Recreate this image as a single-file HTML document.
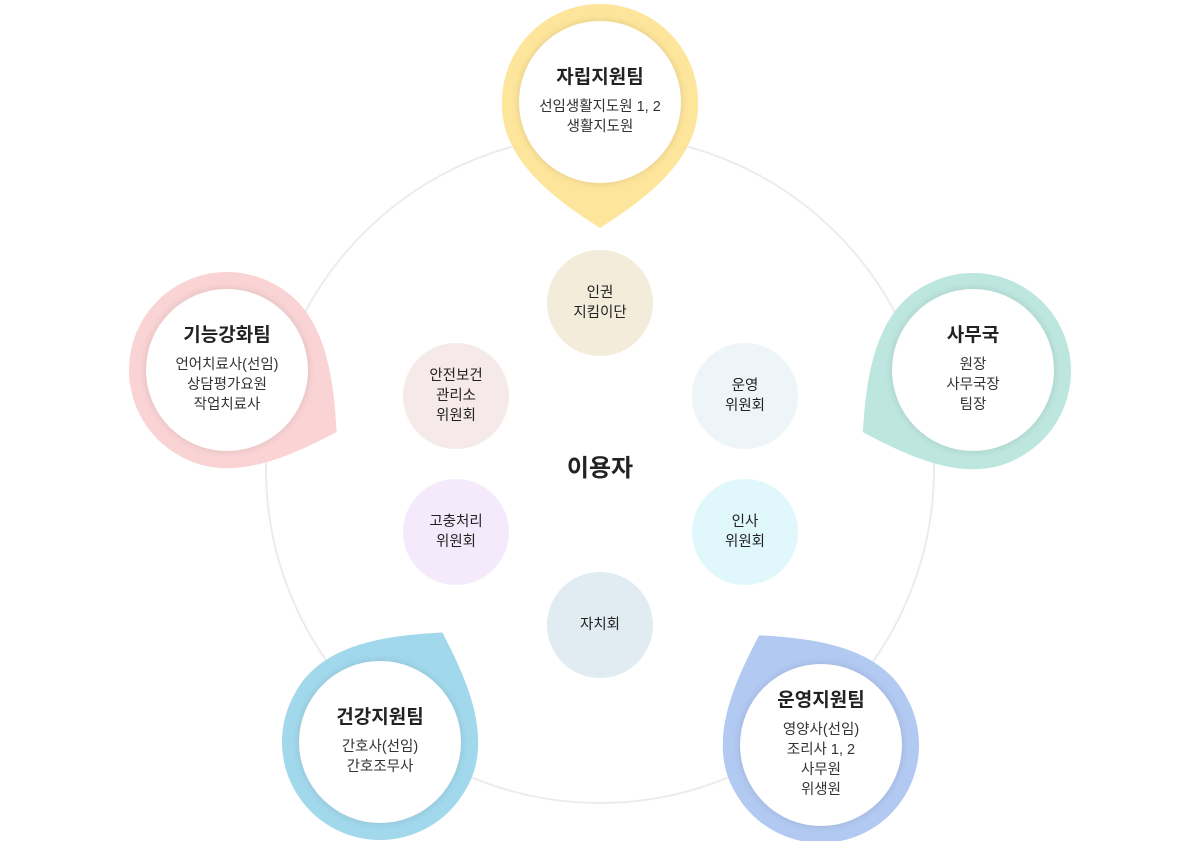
<!DOCTYPE html>
<html><head><meta charset="utf-8"><style>
body{margin:0;width:1200px;height:841px;background:#fff;position:relative;overflow:hidden;font-family:"Liberation Sans","Noto Sans CJK KR",sans-serif;color:#222}
.ring{position:absolute;left:265px;top:134px;width:666px;height:666px;border:2px solid #ececec;border-radius:50%}
svg{position:absolute;left:0;top:0}
.in{position:absolute;width:162px;height:162px;border-radius:50%;background:#fff;box-shadow:0 0 8px rgba(0,0,0,.12);display:flex;flex-direction:column;align-items:center;justify-content:center;text-align:center}
.in b{font-size:19px;margin-bottom:8px;margin-top:-6px}
.in span{font-size:14.5px;line-height:20px;color:#333}
.sm{position:absolute;width:106px;height:106px;border-radius:50%;display:flex;align-items:center;justify-content:center;text-align:center;font-size:14.5px;line-height:20px;color:#222}
</style></head><body>
<div class="ring"></div>
<svg width="1200" height="841">
<defs><path id="p" d="M -98,0 A 98 98 0 1 1 98,0 C 100,60 40,100 0,126 C -40,100 -100,60 -98,0 Z"/></defs>
<use href="#p" fill="#fde59b" transform="translate(600,102)"/>
<use href="#p" fill="#bde6df" transform="translate(973,371) rotate(61)"/>
<use href="#p" fill="#fad4d4" transform="translate(227,370) rotate(-60.5)"/>
<use href="#p" fill="#a2d8ec" transform="translate(380,742) rotate(-150.3)"/>
<use href="#p" fill="#b2c9f2" transform="translate(821,745) rotate(150.6)"/>
</svg>

<div class="in" style="left:519px;top:21px"><b>자립지원팀</b><span>선임생활지도원 1, 2<br>생활지도원</span></div>
<div class="in" style="left:892px;top:289px"><b>사무국</b><span>원장<br>사무국장<br>팀장</span></div>
<div class="in" style="left:146px;top:289px"><b>기능강화팀</b><span>언어치료사(선임)<br>상담평가요원<br>작업치료사</span></div>
<div class="in" style="left:299px;top:661px"><b>건강지원팀</b><span>간호사(선임)<br>간호조무사</span></div>
<div class="in" style="left:740px;top:664px"><b>운영지원팀</b><span>영양사(선임)<br>조리사 1, 2<br>사무원<br>위생원</span></div>

<div class="sm" style="left:547px;top:250px;background:#f3ecdb">인권<br>지킴이단</div>
<div class="sm" style="left:692px;top:343px;background:#eef5f9">운영<br>위원회</div>
<div class="sm" style="left:692px;top:479px;background:#e0f8fc">인사<br>위원회</div>
<div class="sm" style="left:547px;top:572px;background:#e1ebf2">자치회</div>
<div class="sm" style="left:403px;top:479px;background:#f5eafb">고충처리<br>위원회</div>
<div class="sm" style="left:403px;top:343px;background:#f6e9e9">안전보건<br>관리소<br>위원회</div>
<div style="position:absolute;left:500px;top:448px;width:200px;text-align:center;font-size:24px;font-weight:bold">이용자</div>
</body></html>
